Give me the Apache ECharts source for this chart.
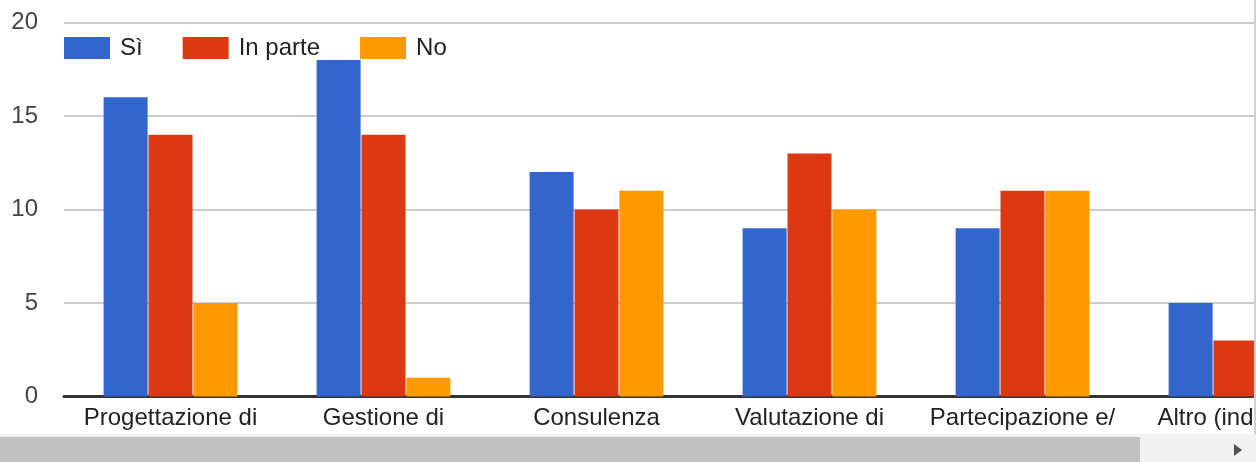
<!DOCTYPE html>
<html>
<head>
<meta charset="utf-8">
<script src="https://cdn.jsdelivr.net/npm/echarts@6/dist/echarts.min.js"></script>
<style>
  html, body { margin: 0; padding: 0; background: #fff; }
  #wrap { position: relative; width: 1256px; height: 462px; overflow: hidden; background: #fff; }
  #chart { position: absolute; left: 0; top: 0; width: 1400px; height: 434px; }
  #vline { position: absolute; left: 1254px; top: 0; width: 2px; height: 434px; background: #cfcfcf; }
  #track { position: absolute; left: 0; top: 434px; width: 1256px; height: 28px; background: #f1f1f1; }
  #thumb { position: absolute; left: 0; top: 437px; width: 1140px; height: 25px; background: #c1c1c1; }
  #arrow { position: absolute; left: 1234px; top: 444px; width: 0; height: 0;
           border-top: 6.5px solid transparent; border-bottom: 6.5px solid transparent;
           border-left: 8px solid #505050; }
</style>
</head>
<body>
<div id="wrap">
  <div id="chart"></div>
  <div id="vline"></div>
  <div id="track"></div>
  <div id="thumb"></div>
  <div id="arrow"></div>
</div>
<script>
const categories = [
  "Progettazione di",
  "Gestione di",
  "Consulenza",
  "Valutazione di",
  "Partecipazione e/",
  "Altro (indicare)"
];
const seriesNames = ["Sì", "In parte", "No"];
const si = [16, 18, 12, 9, 9, 5];
const inParte = [14, 14, 10, 13, 11, 3];
const no = [5, 1, 11, 10, 11, 0];
const colors = ["#3366cc", "#dc3912", "#ff9900"];

const font = "Arial, 'Liberation Sans', sans-serif";

let chart = echarts.init(document.getElementById("chart"));

function bar(name, data) {
  return {
    name: name,
    type: "bar",
    data: data,
    barWidth: 44,
    barGap: "2%",
    animation: false
  };
}

chart.setOption({
  color: colors,
  textStyle: { fontFamily: font },
  legend: {
    left: 64,
    top: 36,
    padding: 0,
    icon: "rect",
    itemWidth: 46,
    itemHeight: 22,
    itemGap: 40,
    textStyle: { fontSize: 24, color: "#222", fontFamily: font, padding: [0, 0, 0, 5] },
    data: seriesNames
  },
  grid: { left: 64, top: 22.5, width: 1278, height: 374 },
  xAxis: {
    type: "category",
    data: categories,
    axisTick: { show: false },
    axisLine: { lineStyle: { color: "#333", width: 3 } },
    axisLabel: { fontSize: 24, color: "#222", margin: 10, fontFamily: font, interval: 0 }
  },
  yAxis: {
    type: "value",
    min: 0,
    max: 20,
    interval: 5,
    axisLine: { show: false },
    axisTick: { show: false },
    splitLine: { lineStyle: { color: "#cccccc", width: 2 } },
    axisLabel: { fontSize: 24, color: "#444", margin: 26, fontFamily: font }
  },
  series: [
    bar(seriesNames[0], si),
    bar(seriesNames[1], inParte),
    bar(seriesNames[2], no)
  ]
}, true);
</script>
</body>
</html>
